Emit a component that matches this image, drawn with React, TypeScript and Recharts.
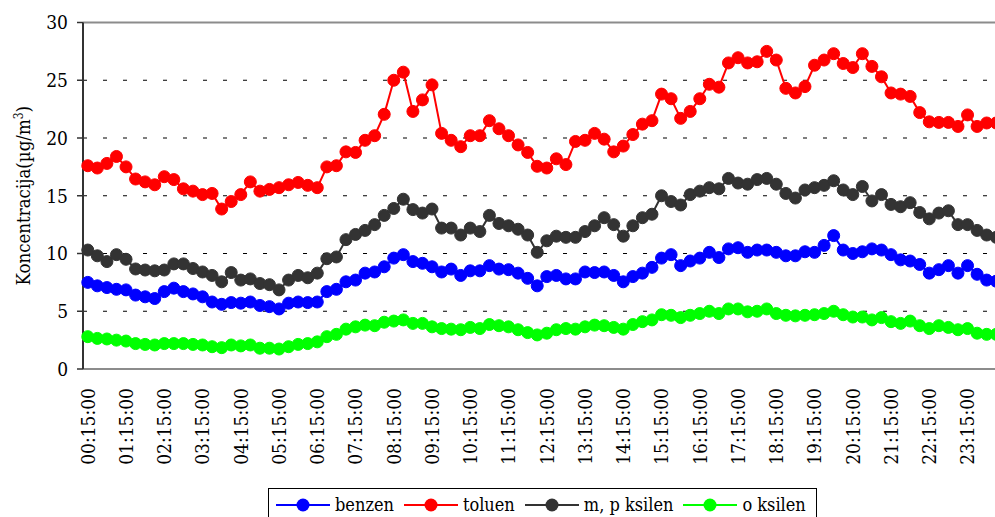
import React from 'react';
import { LineChart, Line, XAxis, YAxis, CartesianGrid, Legend, ReferenceLine } from 'recharts';

const FONT = "'DejaVu Serif Condensed', 'DejaVu Serif', serif";
const TXT: React.CSSProperties = { fontFamily: FONT, fontStretch: 'condensed' };

// categories: every 15 minutes from 00:15:00 to 24:00:00
const hours = ['00','01','02','03','04','05','06','07','08','09','10','11','12','13','14','15','16','17','18','19','20','21','22','23'];
const quarters = ['15','30','45'];
const times: string[] = [];
hours.forEach((h, hi) => {
  quarters.forEach((q) => times.push(`${h}:${q}:00`));
  const next = hi + 1 < 24 ? hours[hi + 1] : '00';
  times.push(`${next}:00:00`);
});

const benzen = [
  7.5, 7.2, 7.05, 6.9, 6.85, 6.4, 6.25, 6.1, 6.7, 7.0, 6.7, 6.5, 6.25, 5.8, 5.6, 5.75,
  5.7, 5.8, 5.5, 5.4, 5.2, 5.7, 5.8, 5.75, 5.8, 6.7, 6.9, 7.55, 7.7, 8.3, 8.4, 8.85,
  9.6, 9.9, 9.3, 9.15, 8.85, 8.4, 8.65, 8.1, 8.5, 8.5, 8.95, 8.65, 8.6, 8.3, 7.85, 7.2,
  8.0, 8.1, 7.8, 7.8, 8.4, 8.35, 8.4, 8.1, 7.55, 8.0, 8.3, 8.8, 9.6, 9.9, 8.95, 9.35,
  9.6, 10.1, 9.65, 10.4, 10.5, 10.1, 10.3, 10.3, 10.1, 9.8, 9.8, 10.15, 10.1, 10.7, 11.55, 10.3,
  10.0, 10.15, 10.4, 10.3, 9.9, 9.45, 9.35, 9.05, 8.3, 8.6, 8.95, 8.3, 8.95, 8.2, 7.7, 7.6,
];

const toluen = [
  17.6, 17.4, 17.8, 18.4, 17.5, 16.45, 16.2, 15.95, 16.65, 16.4, 15.6, 15.4, 15.1, 15.2, 13.85, 14.5,
  15.1, 16.2, 15.4, 15.55, 15.7, 15.95, 16.15, 15.9, 15.7, 17.5, 17.6, 18.8, 18.75, 19.8, 20.2, 22.05,
  25.0, 25.7, 22.3, 23.3, 24.6, 20.4, 19.8, 19.25, 20.2, 20.2, 21.5, 20.8, 20.2, 19.4, 18.75, 17.55,
  17.4, 18.2, 17.7, 19.7, 19.8, 20.4, 19.9, 18.8, 19.3, 20.3, 21.2, 21.5, 23.8, 23.4, 21.7, 22.3,
  23.4, 24.65, 24.4, 26.5, 26.95, 26.5, 26.6, 27.5, 26.75, 24.3, 23.9, 24.45, 26.3, 26.75, 27.3, 26.45,
  26.1, 27.3, 26.2, 25.3, 23.9, 23.8, 23.6, 22.2, 21.4, 21.35, 21.35, 21.0, 22.0, 21.0, 21.3, 21.3,
];

const mpKsilen = [
  10.3, 9.8, 9.3, 9.9, 9.5, 8.66, 8.57, 8.5, 8.57, 9.1, 9.1, 8.7, 8.4, 8.1, 7.55, 8.35,
  7.7, 7.8, 7.4, 7.3, 6.85, 7.7, 8.1, 7.9, 8.3, 9.55, 9.7, 11.2, 11.65, 12.0, 12.5, 13.3,
  13.9, 14.7, 13.8, 13.5, 13.85, 12.2, 12.2, 11.6, 12.2, 11.9, 13.3, 12.6, 12.4, 12.1, 11.6, 10.1,
  11.1, 11.5, 11.4, 11.4, 11.9, 12.4, 13.1, 12.5, 11.5, 12.4, 13.1, 13.4, 15.0, 14.5, 14.2, 15.1,
  15.4, 15.7, 15.6, 16.5, 16.1, 16.0, 16.4, 16.5, 16.0, 15.2, 14.8, 15.5, 15.7, 15.9, 16.3, 15.5,
  15.1, 15.8, 14.55, 15.1, 14.25, 14.05, 14.4, 13.55, 13.0, 13.5, 13.7, 12.5, 12.5, 12.0, 11.6, 11.4,
];

const oKsilen = [
  2.8, 2.65, 2.6, 2.5, 2.42, 2.2, 2.13, 2.08, 2.2, 2.2, 2.2, 2.13, 2.08, 1.93, 1.85, 2.08,
  2.0, 2.08, 1.8, 1.8, 1.73, 1.93, 2.13, 2.2, 2.35, 2.8, 3.0, 3.45, 3.65, 3.8, 3.75, 4.05,
  4.15, 4.25, 3.95, 3.95, 3.65, 3.5, 3.45, 3.4, 3.6, 3.5, 3.85, 3.75, 3.65, 3.4, 3.15, 2.95,
  3.1, 3.4, 3.5, 3.45, 3.65, 3.8, 3.75, 3.6, 3.45, 3.85, 4.1, 4.25, 4.7, 4.65, 4.45, 4.65,
  4.8, 5.0, 4.8, 5.2, 5.2, 4.95, 5.0, 5.2, 4.8, 4.65, 4.6, 4.65, 4.7, 4.8, 5.0, 4.7,
  4.5, 4.5, 4.25, 4.45, 4.1, 3.95, 4.15, 3.75, 3.5, 3.75, 3.6, 3.4, 3.5, 3.1, 3.0, 3.0,
];

const yTicks = [0, 5, 10, 15, 20, 25, 30];

const SERIES = [
  { key: 'benzen', name: 'benzen', color: '#0000FF' },
  { key: 'toluen', name: 'toluen', color: '#FF0000' },
  { key: 'mp', name: 'm, p ksilen', color: '#333333' },
  { key: 'o', name: 'o ksilen', color: '#00FF00' },
];

const data = times.map((t, i) => ({
  time: t,
  benzen: benzen[i],
  toluen: toluen[i],
  mp: mpKsilen[i],
  o: oKsilen[i],
}));

const XTick = (props: any) => {
  const { x, y, payload } = props;
  return (
    <text
      transform={`translate(${x},${y}) rotate(-90)`}
      textAnchor="end"
      dy="0.36em"
      style={TXT}
      fontSize={19}
      fill="#000"
    >
      {payload.value}
    </text>
  );
};

const YTick = (props: any) => {
  const { x, y, payload } = props;
  return (
    <text x={x} y={y} dy="0.36em" textAnchor="end" style={TXT} fontSize={19} fill="#000">
      {payload.value}
    </text>
  );
};

const YLabel = (props: any) => {
  const vb = props.viewBox || { x: 0, y: 22.5, width: 83, height: 346.5 };
  const cy = vb.y + vb.height / 2;
  return (
    <text
      transform={`translate(30,${cy}) rotate(-90)`}
      textAnchor="middle"
      style={TXT}
      fontSize={18.5}
      fill="#000"
    >
      Koncentracija(µg/m<tspan dy={-7} fontSize={12}>3</tspan><tspan dy={7}>)</tspan>
    </text>
  );
};

const LegendBox = () => (
  <div
    style={{
      border: '1px solid #000',
      boxSizing: 'border-box',
      height: 34,
      width: 549,
      display: 'flex',
      alignItems: 'center',
      ...TXT,
      fontSize: 18,
      color: '#000',
      background: '#fff',
      paddingLeft: 7,
      gap: 10,
      whiteSpace: 'nowrap',
    }}
  >
    {SERIES.map((s) => (
      <div key={s.key} style={{ display: 'flex', alignItems: 'center' }}>
        <svg width={54} height={14} style={{ display: 'block' }}>
          <line x1={0} y1={7} x2={54} y2={7} stroke={s.color} strokeWidth={2} />
          <circle cx={27} cy={7} r={6.5} fill={s.color} />
        </svg>
        <span style={{ marginLeft: 5, lineHeight: '20px' }}>{s.name}</span>
      </div>
    ))}
  </div>
);

export default function App() {
  return (
    <div
      style={{
        position: 'absolute',
        left: 0,
        top: 0,
        width: 995,
        height: 517,
        overflow: 'hidden',
        background: '#fff',
      }}
    >
      <LineChart
        width={1010}
        height={522}
        data={data}
        margin={{ top: 22.5, right: 9, left: 0, bottom: 0 }}
      >
        <CartesianGrid vertical={false} stroke="#000" strokeDasharray="4 16" />
        <XAxis
          dataKey="time"
          interval={3}
          tickLine={false}
          tickSize={0}
          tickMargin={19}
          height={119}
          padding={{ left: 4.78, right: 4.78 }}
          axisLine={{ stroke: '#8c8c8c', strokeWidth: 2 }}
          tick={<XTick />}
        />
        <YAxis
          width={83}
          domain={[0, 30]}
          ticks={yTicks}
          interval={0}
          tickSize={6}
          tickMargin={9}
          axisLine={{ stroke: '#333', strokeWidth: 2 }}
          tickLine={{ stroke: '#333', strokeWidth: 1.5 }}
          tick={<YTick />}
          label={YLabel}
        />
        <ReferenceLine y={30} stroke="#8c8c8c" strokeWidth={2} />
        <Legend
          content={<LegendBox />}
          wrapperStyle={{ left: 268, top: 488, bottom: 'auto', width: 549, height: 34 }}
        />
        {SERIES.map((s) => (
          <Line
            key={s.key}
            type="linear"
            dataKey={s.key}
            name={s.name}
            stroke={s.color}
            strokeWidth={2}
            dot={{ r: 6, fill: s.color, stroke: s.color, strokeWidth: 1 }}
            activeDot={false}
            isAnimationActive={false}
          />
        ))}
      </LineChart>
    </div>
  );
}
